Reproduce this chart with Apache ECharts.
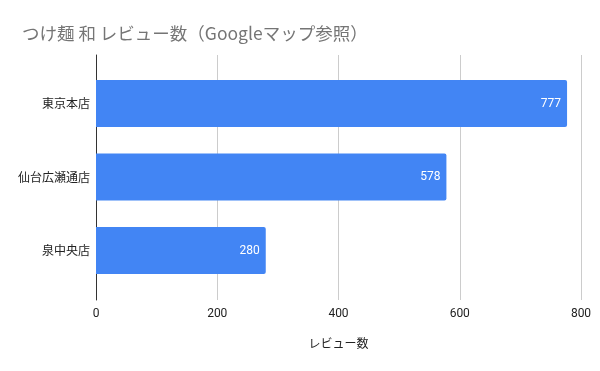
<!DOCTYPE html>
<html><head><meta charset="utf-8">
<script src="https://cdn.jsdelivr.net/npm/echarts@6/dist/echarts.min.js"></script>
<style>html,body{margin:0;padding:0;background:#fff}#c{width:600px;height:371px}</style>
</head><body><div id="c"></div>
<script>
const titleText = 'つけ麺 和 レビュー数（Googleマップ参照）';
const categories = ['東京本店', '仙台広瀬通店', '泉中央店'];
const reviews = [777, 578, 280];
const xTicks = [0, 200, 400, 600, 800];
const xName = 'レビュー数';

const font = '"Noto Sans CJK JP", Roboto, sans-serif';
const chart = echarts.init(document.getElementById('c'));
chart.setOption({
  animation: false,
  textStyle: { fontFamily: font },
  title: { text: titleText, left: 17, top: 20, textStyle: { fontSize: 17.5, fontWeight: 'normal', color: '#757575', fontFamily: font } },
  grid: [
    { left: 96, right: 19, top: 55, bottom: 71 },
    { left: 96, right: 19, top: 66.75, bottom: 83.75 }
  ],
  xAxis: [
    { type: 'value', gridIndex: 0, min: xTicks[0], max: xTicks[xTicks.length - 1], interval: 200,
      axisLine: { show: false }, axisTick: { show: false },
      splitLine: { lineStyle: { color: '#cccccc' } },
      axisLabel: { color: '#222', fontSize: 12, margin: 8, fontFamily: 'Roboto' },
      name: xName, nameLocation: 'middle', nameGap: 37,
      nameTextStyle: { color: '#222', fontSize: 12, fontFamily: font } },
    { type: 'value', gridIndex: 1, min: xTicks[0], max: xTicks[xTicks.length - 1], show: false }
  ],
  yAxis: [
    { type: 'category', gridIndex: 0, data: [''], axisLine: { show: true, lineStyle: { color: '#333', width: 1 } },
      axisTick: { show: false }, axisLabel: { show: false } },
    { type: 'category', gridIndex: 1, data: categories, inverse: true,
      axisLine: { show: false }, axisTick: { show: false },
      axisLabel: { color: '#222', fontSize: 12, margin: 6, fontFamily: font } }
  ],
  series: [{
    type: 'bar', xAxisIndex: 1, yAxisIndex: 1, data: reviews, barWidth: 47,
    itemStyle: { color: '#4285F4', borderRadius: [0, 2, 2, 0] },
    label: { show: true, position: 'insideRight', color: '#fff', fontSize: 12, distance: 6, fontFamily: 'Roboto' }
  }]
});
</script></body></html>
